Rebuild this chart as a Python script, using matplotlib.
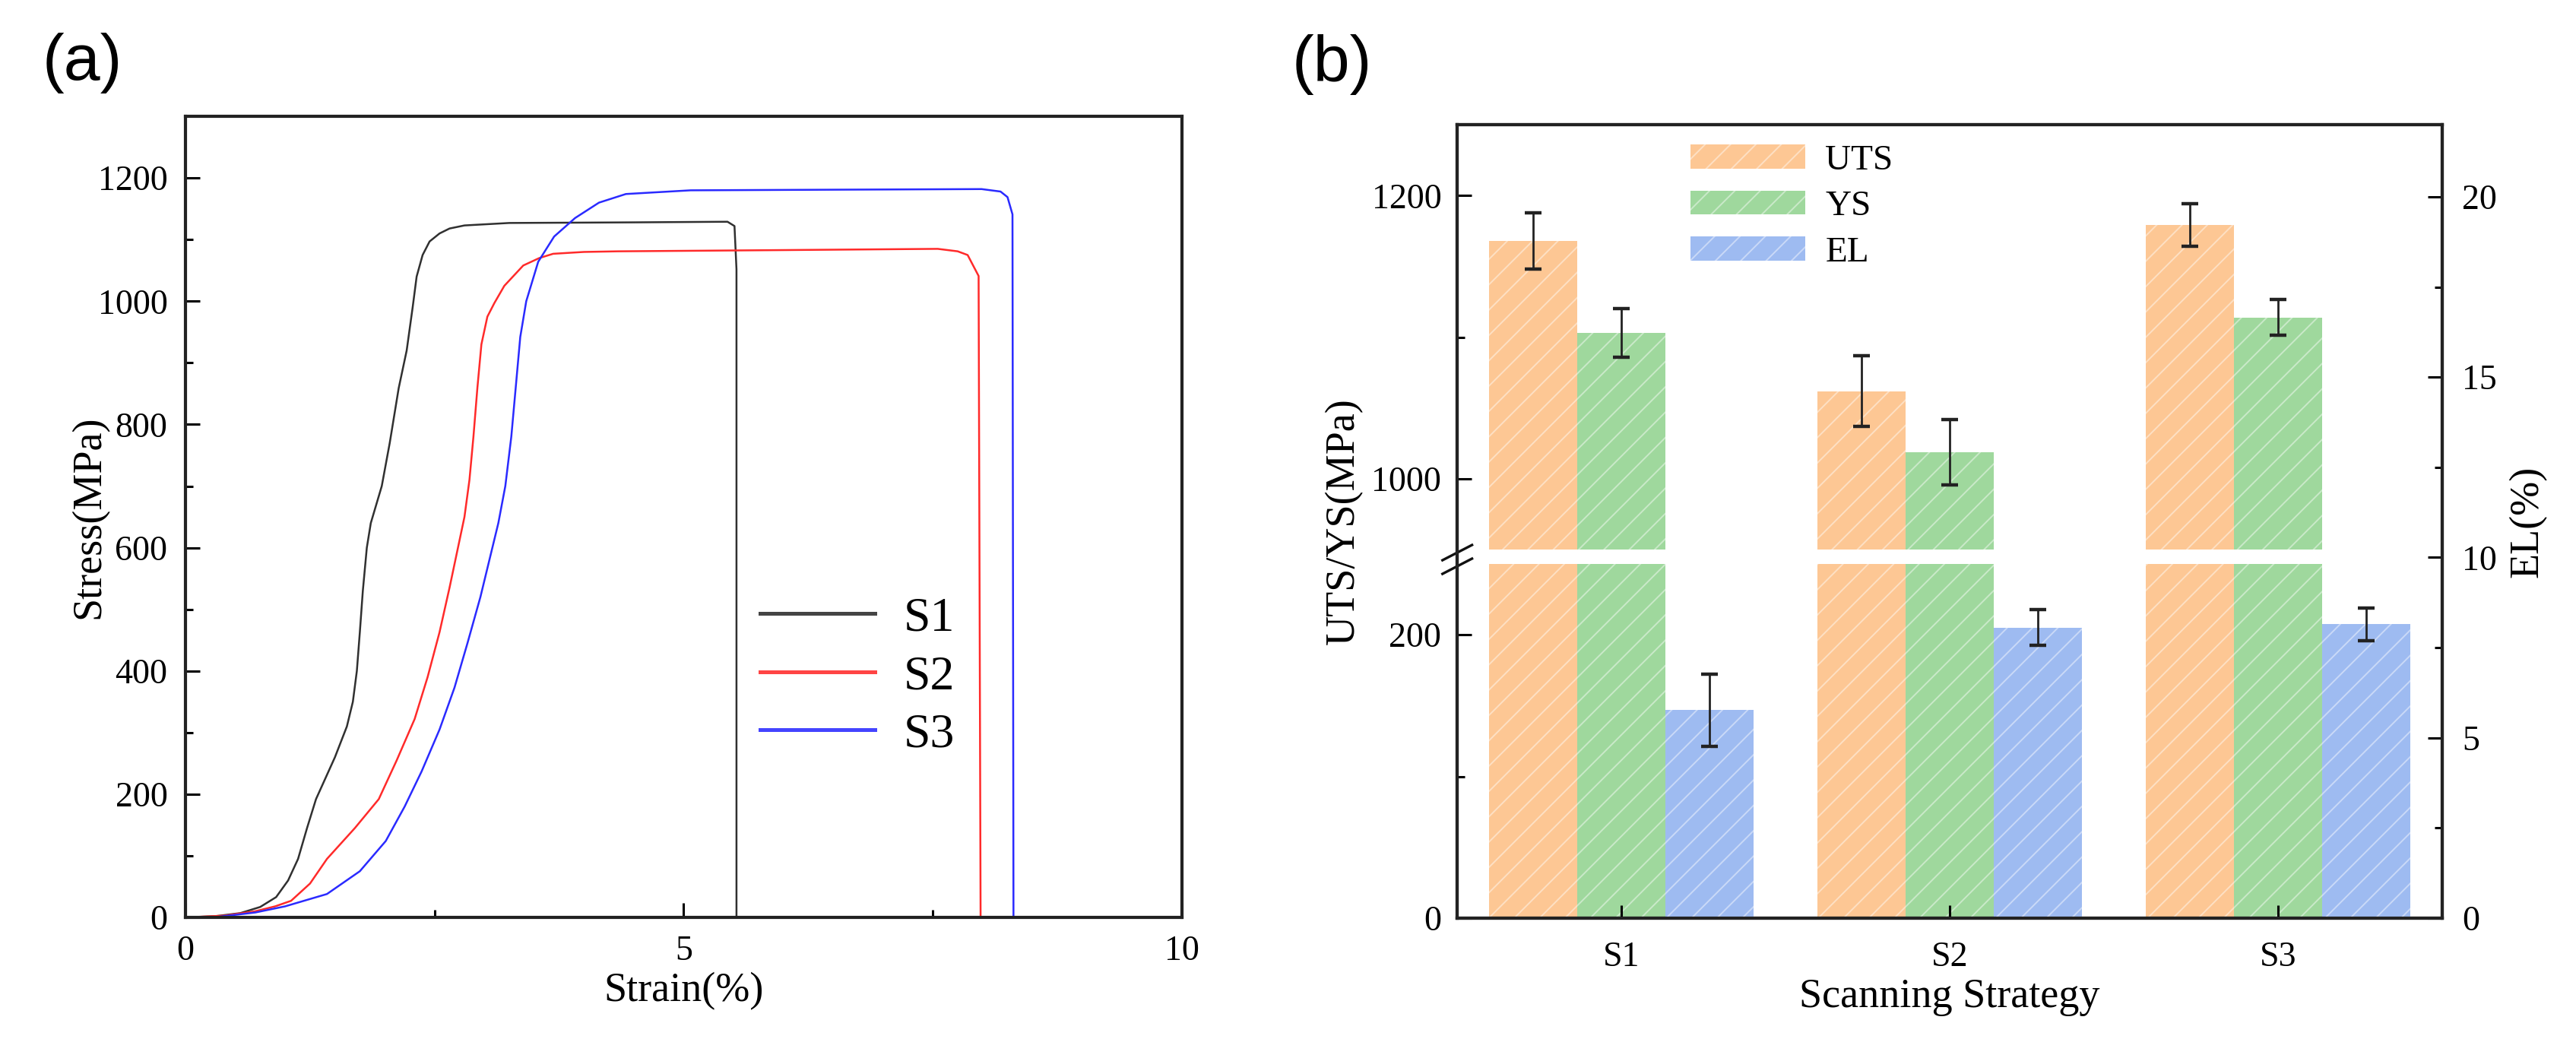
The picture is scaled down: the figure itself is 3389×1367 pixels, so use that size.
import numpy as np
import matplotlib
matplotlib.use("Agg")
import matplotlib.pyplot as plt
from matplotlib.lines import Line2D

plt.rcParams["font.family"] = ["Liberation Serif", "DejaVu Serif"]
plt.rcParams["hatch.linewidth"] = 0.7

# (a) tensile curves: strain (%), stress (MPa)
s1_strain = [0, 0.3, 0.55, 0.75, 0.91, 1.03, 1.13, 1.22, 1.31, 1.50, 1.62, 1.68,
             1.72, 1.75, 1.78, 1.82, 1.86, 1.97, 2.05, 2.14, 2.22, 2.28, 2.32,
             2.38, 2.45, 2.55, 2.65, 2.80, 3.25, 4.5, 5.44, 5.51, 5.53, 5.53]
s1_stress = [0, 2, 7, 17, 33, 60, 95, 145, 192, 260, 310, 350,
             400, 463, 530, 600, 640, 700, 770, 859, 920, 990, 1040,
             1075, 1097, 1110, 1118, 1123, 1127, 1128, 1129, 1122, 1052, 0]

s2_strain = [0, 0.4, 0.7, 0.9, 1.06, 1.25, 1.42, 1.70, 1.94, 2.12, 2.30, 2.43,
             2.55, 2.65, 2.74, 2.80, 2.85, 2.89, 2.93, 2.97, 3.03, 3.10, 3.20,
             3.39, 3.55, 3.69, 4.0, 4.34, 6.0, 7.55, 7.75, 7.85, 7.96, 7.98]
s2_stress = [0, 3, 10, 18, 27, 55, 95, 145, 192, 255, 322, 390,
             463, 535, 604, 650, 710, 780, 860, 930, 975, 997, 1025,
             1058, 1070, 1077, 1080, 1081, 1083, 1085, 1081, 1075, 1041, 0]

s3_strain = [0, 0.33, 0.7, 1.0, 1.42, 1.75, 2.01, 2.20, 2.37, 2.55, 2.70, 2.83,
             2.96, 3.05, 3.14, 3.21, 3.27, 3.32, 3.36, 3.42, 3.54, 3.70, 3.91,
             4.15, 4.42, 5.07, 6.5, 7.99, 8.18, 8.25, 8.30, 8.31]
s3_stress = [0, 1, 8, 18, 38, 75, 124, 180, 237, 305, 373, 445,
             520, 580, 640, 700, 780, 870, 942, 1000, 1064, 1105, 1135,
             1160, 1174, 1180, 1181, 1182, 1178, 1169, 1141, 0]

# (b) bar chart
strategies = ["S1", "S2", "S3"]
uts = [1168, 1062, 1179]
uts_err = [20, 25, 15]
ys = [1103, 1019, 1114]
ys_err = [17, 23, 12.5]
el = [5.77, 8.06, 8.15]
el_err = [1.0, 0.5, 0.45]

# broken left axis of (b): 0-250 and 950-1250 shown
LOW, HIGH, GAP = 250, 950, 10


def fwd(v):
    v = np.asarray(v, dtype=float)
    return np.where(v <= LOW, v,
                    np.where(v >= HIGH, v - (HIGH - LOW) + GAP,
                             LOW + (v - LOW) * GAP / (HIGH - LOW)))


def inv(u):
    u = np.asarray(u, dtype=float)
    return np.where(u <= LOW, u,
                    np.where(u >= LOW + GAP, u + (HIGH - LOW) - GAP,
                             LOW + (u - LOW) * (HIGH - LOW) / GAP))


def style_spines(ax, lw=1.5):
    for sp in ax.spines.values():
        sp.set_linewidth(lw)
        sp.set_color("#222222")


def main():
    fig = plt.figure(figsize=(16.945, 6.835), dpi=200)

    # ---------------- (a)
    ax = fig.add_axes([0.072, 0.117, 0.3868, 0.771])
    ax.plot(s1_strain, s1_stress, color="#303030", lw=0.9)
    ax.plot(s2_strain, s2_stress, color="#ff2a2a", lw=0.9)
    ax.plot(s3_strain, s3_stress, color="#2a2aff", lw=0.9)
    ax.set_xlim(0, 10)
    ax.set_ylim(0, 1300)
    ax.set_xticks([0, 5, 10])
    ax.set_xticks([2.5, 7.5], minor=True)
    ax.set_yticks(np.arange(0, 1201, 200))
    ax.set_yticks(np.arange(100, 1200, 200), minor=True)
    ax.tick_params(which="both", direction="in", width=1.1, labelsize=16.5, pad=8.5)
    ax.tick_params(which="major", length=7)
    ax.tick_params(which="minor", length=3.6)
    ax.set_xlabel("Strain(%)", fontsize=19.5, labelpad=2)
    ax.set_ylabel("Stress(MPa)", fontsize=19.5, labelpad=-5)
    style_spines(ax)
    handles = [Line2D([], [], color="#444444", lw=1.8),
               Line2D([], [], color="#ff4444", lw=1.8),
               Line2D([], [], color="#4444ff", lw=1.8)]
    ax.legend(handles, ["S1", "S2", "S3"], loc="center left",
              bbox_to_anchor=(0.577, 0.30), frameon=False, fontsize=23,
              handlelength=2.35, handletextpad=0.6, labelspacing=0.28,
              borderpad=0, borderaxespad=0)

    # ---------------- (b)
    bx = fig.add_axes([0.5657, 0.1163, 0.3824, 0.7637])
    bx.set_yscale("function", functions=(fwd, inv))
    x = np.arange(1, 4)
    w = 0.268
    hatch_col = (1, 1, 1, 0.45)
    b1 = bx.bar(x - w, uts, w, color="#fdc794", edgecolor=hatch_col, lw=0,
                hatch="//", zorder=1, label="UTS")
    b2 = bx.bar(x, ys, w, color="#9fd89d", edgecolor=hatch_col, lw=0,
                hatch="//", zorder=1, label="YS")
    bx.errorbar(x - w, uts, yerr=uts_err, fmt="none", ecolor="#222222",
                elinewidth=1.0, capsize=4, capthick=1.6, zorder=3)
    bx.errorbar(x, ys, yerr=ys_err, fmt="none", ecolor="#222222",
                elinewidth=1.0, capsize=4, capthick=1.6, zorder=3)
    bx.axhspan(LOW, HIGH, color="white", lw=0, zorder=1.5)
    bx.set_xlim(0.5, 3.5)
    bx.set_ylim(0, 1250)
    bx.set_yticks([0, 200, 1000, 1200])
    bx.set_yticks([100, 1100], minor=True)
    bx.set_yticklabels(["0", "200", "1000", "1200"])
    bx.set_xticks(x)
    bx.set_xticklabels(strategies)
    bx.tick_params(which="both", direction="in", width=1.1, labelsize=16.5, pad=7.5)
    bx.tick_params(which="major", length=7)
    bx.tick_params(which="minor", length=3.6)
    bx.tick_params(axis="x", pad=11, length=6)
    bx.set_xlabel("Scanning Strategy", fontsize=19.5, labelpad=2)
    bx.set_ylabel("UTS/YS(MPa)", fontsize=19.5, labelpad=4)
    style_spines(bx)

    # break marks on the left spine
    for yc in (0.4607, 0.4435):
        bx.plot([-0.015, 0.015], [yc - 0.0096, yc + 0.0096], color="#111111",
                lw=1.2, transform=bx.transAxes, clip_on=False, zorder=5)

    tx = bx.twinx()
    b3 = tx.bar(x + w, el, w, color="#9ebbf1", edgecolor=hatch_col, lw=0,
                hatch="//", zorder=1, label="EL")
    tx.errorbar(x + w, el, yerr=el_err, fmt="none", ecolor="#222222",
                elinewidth=1.0, capsize=4, capthick=1.6, zorder=3)
    tx.set_ylim(0, 22)
    tx.set_yticks([0, 5, 10, 15, 20])
    tx.set_yticks([2.5, 7.5, 12.5, 17.5], minor=True)
    tx.tick_params(which="both", direction="in", width=1.1, labelsize=16.5, pad=9.5)
    tx.tick_params(which="major", length=7)
    tx.tick_params(which="minor", length=3.6)
    tx.set_ylabel("EL(%)", fontsize=19.5, labelpad=5.5)
    style_spines(tx)

    tx.legend([b1, b2, b3], ["UTS", "YS", "EL"], loc="upper left",
              bbox_to_anchor=(0.237, 0.975), frameon=False, fontsize=17,
              handlelength=3.2, handleheight=0.65, handletextpad=0.55,
              labelspacing=0.38, borderpad=0, borderaxespad=0)

    fig.text(108 / 3389, 1 - 83 / 1367, "(a)", ha="center", va="center",
             family="Liberation Sans", fontsize=31)
    fig.text(1752 / 3389, 1 - 85 / 1367, "(b)", ha="center", va="center",
             family="Liberation Sans", fontsize=31)

    fig.savefig("out.png", dpi=200)


if __name__ == '__main__':
    main()
